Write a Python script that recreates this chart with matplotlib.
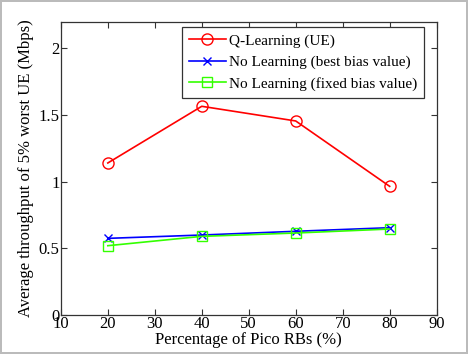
import numpy as np
import matplotlib.pyplot as plt

pico_rbs = [20, 40, 60, 80]
q_learning = [1.14, 1.565, 1.455, 0.965]
best_bias = [0.575, 0.60, 0.628, 0.655]
fixed_bias = [0.52, 0.59, 0.615, 0.645]

xticks = [10, 20, 30, 40, 50, 60, 70, 80, 90]
yticks = [0, 0.5, 1, 1.5, 2]
yticklabels = ["0", "0.5", "1", "1.5", "2"]

plt.rcParams["font.family"] = ["Liberation Serif", "DejaVu Serif"]

fig = plt.figure(figsize=(4.68, 3.54), dpi=100, edgecolor="#bbbbbb", linewidth=1.5)
ax = fig.add_axes([0.130, 0.110, 0.803, 0.829])

ax.plot(pico_rbs, q_learning, color="#ff0000", marker="o", markersize=8,
        markerfacecolor="none", linewidth=1.2, label="Q-Learning (UE)")
ax.plot(pico_rbs, best_bias, color="#0000ff", marker="x", markersize=6,
        linewidth=1.2, label="No Learning (best bias value)")
ax.plot(pico_rbs, fixed_bias, color="#33ff00", marker="s", markersize=7,
        markerfacecolor="none", linewidth=1.2, label="No Learning (fixed bias value)")

ax.set_xlim(10, 90)
ax.set_ylim(0, 2.2)
ax.set_xticks(xticks)
ax.set_yticks(yticks)
ax.set_yticklabels(yticklabels)
ax.tick_params(direction="in", top=True, right=True, labelsize=12, length=4,
               color="#333333", pad=1)
for s in ax.spines.values():
    s.set_color("#333333")
    s.set_linewidth(0.9)

ax.set_xlabel("Percentage of Pico RBs (%)", fontsize=12, labelpad=0)
ax.set_ylabel("Average throughput of 5% worst UE (Mbps)", fontsize=12, labelpad=3)

leg = ax.legend(loc="upper right", fontsize=11, handlelength=2.4, handletextpad=0.2,
                borderpad=0.45, labelspacing=0.5, fancybox=False, framealpha=1,
                bbox_to_anchor=(0.966, 0.982), borderaxespad=0)
leg.get_frame().set_edgecolor("#333333")
leg.get_frame().set_linewidth(0.9)

plt.savefig("out.png", dpi=100)
